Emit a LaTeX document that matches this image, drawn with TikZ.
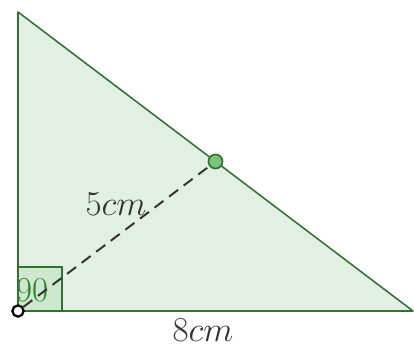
\documentclass[tikz,border=0pt]{standalone}
\usepackage[dvipsnames,svgnames,x11names]{xcolor}
\usepackage{tikz}
\usetikzlibrary{positioning,calc}
\definecolor{leafgreen}{RGB}{52,112,52}
\definecolor{palegreen}{RGB}{226,239,227}
\definecolor{anglegreen}{RGB}{206,232,206}
\definecolor{textgreen}{RGB}{50,128,50}
\definecolor{dotgreen}{RGB}{120,196,120}

\begin{document}
\begin{tikzpicture}[x=1cm,y=1cm,font=\Huge]
\useasboundingbox (0,0) rectangle (10.35,8.675);
\coordinate (corner) at (0.45,0.9);
\coordinate (apex) at (0.45,8.375);
\coordinate (tip) at (10.325,0.9);
\coordinate (mid) at ($(apex)!0.5!(tip)$);
\fill[palegreen] (corner) -- (tip) -- (apex) -- cycle;
\draw[line width=1pt,draw=leafgreen,fill=anglegreen] (corner) rectangle ++(1.1,1.1);
\node[text=textgreen,inner sep=0pt] (rightangle) at (0.81,1.42) {90};
\draw[line width=1.1pt,leafgreen,line join=round] (corner) -- (tip) -- (apex) -- cycle;
\node[circle,minimum size=8pt,inner sep=0pt,line width=1.6pt,draw=black,fill=white] (vertex) at (corner) {};
\node[circle,minimum size=10pt,inner sep=0pt,line width=1.2pt,draw=leafgreen,fill=dotgreen] (midpoint) at (mid) {};
\draw[line width=1.4pt,black!80,dash pattern=on 8pt off 5pt] (vertex) -- (midpoint);
\node[inner sep=0pt,text=black!80] (hyplabel) at (2.9,3.575) {$5cm$};
\node[inner sep=0pt,text=black!80] (baselabel) at (5.075,0.425) {$8cm$};
\end{tikzpicture}
\end{document}
